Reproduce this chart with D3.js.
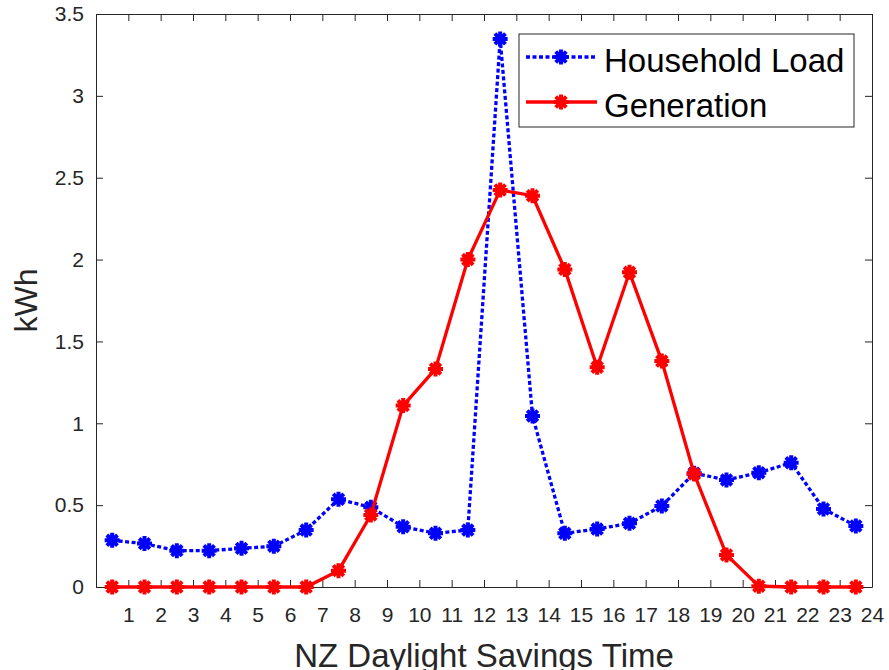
<!DOCTYPE html>
<html>
<head>
  <meta charset="utf-8">
  <title>Household Load vs Generation</title>
  <script src="https://d3js.org/d3.v7.min.js"></script>
  <style>
    body { margin: 0; background: #fff; }
    svg { font-family: "Liberation Sans", Arial, Helvetica, sans-serif; }
    .axis text { font-size: 21px; fill: #262626; }
    .axis path, .axis line { fill: none; stroke: #262626; stroke-width: 1; }
    .label { fill: #262626; }
  </style>
</head>
<body>
  <svg width="889" height="670"></svg>

  <script>
    // hour slots (centred on the half hour)
    var hours = [0.5, 1.5, 2.5, 3.5, 4.5, 5.5, 6.5, 7.5, 8.5, 9.5, 10.5, 11.5,
                 12.5, 13.5, 14.5, 15.5, 16.5, 17.5, 18.5, 19.5, 20.5, 21.5, 22.5, 23.5];

    var householdLoad = [0.285, 0.265, 0.222, 0.222, 0.236, 0.249, 0.348, 0.536,
                         0.487, 0.368, 0.328, 0.348, 3.348, 1.045, 0.328, 0.354,
                         0.389, 0.495, 0.695, 0.654, 0.698, 0.759, 0.477, 0.373];

    var generation = [0, 0, 0, 0, 0, 0, 0, 0.10,
                      0.44, 1.108, 1.332, 2.0, 2.425, 2.39, 1.94, 1.342,
                      1.922, 1.38, 0.69, 0.196, 0.005, 0, 0, 0];

    var xTicks = [1, 2, 3, 4, 5, 6, 7, 8, 9, 10, 11, 12, 13, 14, 15, 16, 17, 18, 19, 20, 21, 22, 23, 24];
    var yTicks = [0, 0.5, 1, 1.5, 2, 2.5, 3, 3.5];

    var seriesNames = ["Household Load", "Generation"];

    // plot box (window.top is read-only, so prefixed names)
    var pLeft = 96, pRight = 872, pTop = 14, pBottom = 587;
    var svg = d3.select("svg");

    var x = d3.scaleLinear().domain([0, 24]).range([pLeft, pRight]);
    var y = d3.scaleLinear().domain([0, 3.5]).range([pBottom, pTop]);

    var fmt = function(d) { return d3.format("~g")(d); };

    // axes, ticks pointing inwards like matlab
    svg.append("g")
      .attr("class", "axis")
      .attr("transform", "translate(0," + pBottom + ")")
      .call(d3.axisBottom(x).tickValues(xTicks).tickFormat(fmt)
        .tickSizeInner(-7).tickSizeOuter(0).tickPadding(20));

    svg.append("g")
      .attr("class", "axis")
      .attr("transform", "translate(0," + pTop + ")")
      .call(d3.axisTop(x).tickValues(xTicks).tickFormat("")
        .tickSizeInner(-7).tickSizeOuter(0));

    svg.append("g")
      .attr("class", "axis")
      .attr("transform", "translate(" + pLeft + ",0)")
      .call(d3.axisLeft(y).tickValues(yTicks).tickFormat(fmt)
        .tickSizeInner(-7).tickSizeOuter(0).tickPadding(12));

    svg.append("g")
      .attr("class", "axis")
      .attr("transform", "translate(" + pRight + ",0)")
      .call(d3.axisRight(y).tickValues(yTicks).tickFormat("")
        .tickSizeInner(-7).tickSizeOuter(0));

    // axis labels
    svg.append("text")
      .attr("class", "label")
      .attr("x", (pLeft + pRight) / 2)
      .attr("y", 667)
      .attr("text-anchor", "middle")
      .style("font-size", "33px")
      .text("NZ Daylight Savings Time");

    svg.append("text")
      .attr("class", "label")
      .attr("transform", "translate(37," + (pTop + pBottom) / 2 + ") rotate(-90)")
      .attr("text-anchor", "middle")
      .style("font-size", "32px")
      .text("kWh");

    // matlab style '*' marker: plus + cross
    var r = 7.5;
    var d7 = r * Math.SQRT1_2;
    var starPath = "M0," + (-r) + "V" + r + "M" + (-r) + ",0H" + r +
      "M" + (-d7) + "," + (-d7) + "L" + d7 + "," + d7 +
      "M" + (-d7) + "," + d7 + "L" + d7 + "," + (-d7);

    var line = d3.line()
      .x(function(d) { return x(d[0]); })
      .y(function(d) { return y(d[1]); });

    function drawSeries(values, color, dash) {
      var pts = hours.map(function(h, i) { return [h, values[i]]; });
      var g = svg.append("g");
      g.append("path")
        .datum(pts)
        .attr("d", line)
        .attr("fill", "none")
        .attr("stroke", color)
        .attr("stroke-width", 3.3)
        .attr("stroke-dasharray", dash);
      g.selectAll(".mk")
        .data(pts)
        .enter()
        .append("path")
        .attr("class", "mk")
        .attr("transform", function(d) { return "translate(" + x(d[0]) + "," + y(d[1]) + ")"; })
        .attr("d", starPath)
        .attr("fill", "none")
        .attr("stroke", color)
        .attr("stroke-width", 4);
    }

    drawSeries(householdLoad, "#0000ff", "4,2.5");
    drawSeries(generation, "#ff0000", null);

    // legend
    var lg = svg.append("g");
    lg.append("rect")
      .attr("x", 519).attr("y", 34)
      .attr("width", 335).attr("height", 93)
      .attr("fill", "#fff")
      .attr("stroke", "#262626")
      .attr("stroke-width", 1);

    var legendItems = [
      { name: seriesNames[0], color: "#0000ff", dash: "4,2.5", y: 57 },
      { name: seriesNames[1], color: "#ff0000", dash: null, y: 102 }
    ];

    legendItems.forEach(function(it) {
      lg.append("line")
        .attr("x1", 526).attr("x2", 597)
        .attr("y1", it.y).attr("y2", it.y)
        .attr("stroke", it.color)
        .attr("stroke-width", 3.3)
        .attr("stroke-dasharray", it.dash);
      lg.append("path")
        .attr("transform", "translate(561," + it.y + ")")
        .attr("d", starPath)
        .attr("fill", "none")
        .attr("stroke", it.color)
        .attr("stroke-width", 4);
      lg.append("text")
        .attr("x", 604)
        .attr("y", it.y + 15)
        .style("font-size", "33px")
        .attr("fill", "#000")
        .text(it.name);
    });
  </script>
</body>
</html>
